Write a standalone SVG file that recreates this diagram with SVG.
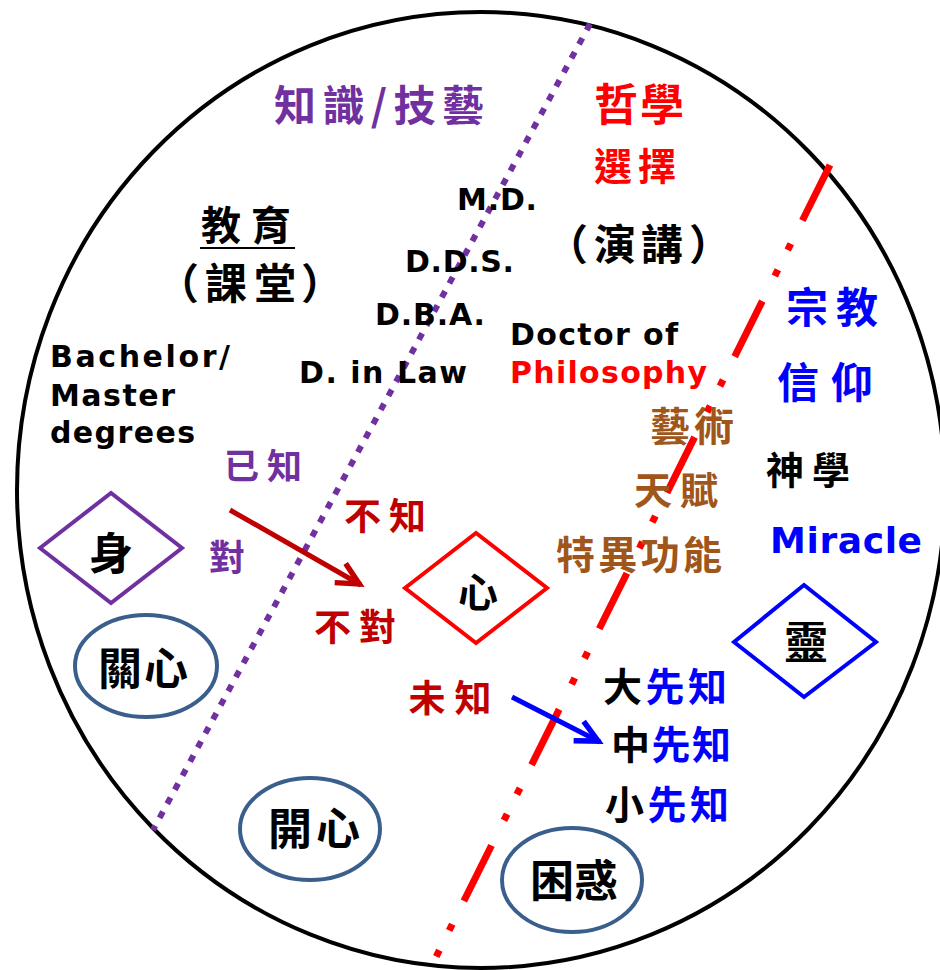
<svg xmlns="http://www.w3.org/2000/svg" width="940" height="970" viewBox="0 0 940 970">
<style>
.cjk{font-family:"Noto Sans CJK TC","Noto Sans CJK JP",sans-serif;text-anchor:middle;font-weight:bold}
.lat{font-family:"DejaVu Sans","Verdana",sans-serif;font-weight:bold;font-size:30px}
.blk{fill:#000}
.pur{fill:#7030A0}
.red{fill:#FF0000}
.drd{fill:#C00000}
.blu{fill:#0000FF}
.brn{fill:#A0561A}
.oval{fill:none;stroke:#3B5F8C;stroke-width:4}
.dia{fill:none;stroke-width:4}
</style>
<defs>
<marker id="ahRed" markerUnits="userSpaceOnUse" viewBox="-30 -15 36 30" refX="0" refY="0" markerWidth="36" markerHeight="30" orient="auto">
<path d="M-24,-11 L-2,0 L-24,11" fill="none" stroke="#C00000" stroke-width="5.5" stroke-linejoin="miter"/>
</marker>
<marker id="ahBlue" markerUnits="userSpaceOnUse" viewBox="-30 -15 36 30" refX="0" refY="0" markerWidth="36" markerHeight="30" orient="auto">
<path d="M-24,-11 L-2,0 L-24,11" fill="none" stroke="#0000FF" stroke-width="5.5" stroke-linejoin="miter"/>
</marker>
</defs>
<rect x="0" y="0" width="940" height="970" fill="#fff"/>
<g id="frame">
<ellipse cx="481" cy="490" rx="464" ry="478" fill="none" stroke="#000" stroke-width="4"/>
<line x1="590" y1="24" x2="153" y2="830" stroke="#7030A0" stroke-width="6" stroke-dasharray="7 9"/>
<line x1="830" y1="165" x2="432" y2="965" stroke="#FF0000" stroke-width="7" stroke-dasharray="62 26 7 22 7 28"/>
</g>
<g id="connectors">
<line x1="230" y1="510" x2="361" y2="585" stroke="#C00000" stroke-width="5" marker-end="url(#ahRed)"/>
<line x1="512" y1="697" x2="600" y2="742" stroke="#0000FF" stroke-width="5" marker-end="url(#ahBlue)"/>
</g>
<g id="headings">
<text class="cjk pur" x="379" y="121" font-size="42" textLength="210">知識/技藝</text>
<text class="cjk red" x="639" y="121" font-size="44" textLength="90">哲學</text>
<text class="cjk red" x="635" y="180" font-size="38" textLength="82">選擇</text>
</g>
<g id="education">
<text class="cjk blk" x="246" y="240" font-size="40" textLength="90">教育</text>
<line x1="200" y1="248" x2="295" y2="248" stroke="#000" stroke-width="2"/>
<text class="cjk blk" y="299" font-size="42"><tspan x="178">（</tspan><tspan x="226">課</tspan><tspan x="275">堂</tspan><tspan x="322">）</tspan></text>
</g>
<g id="lecture">
<text class="cjk blk" y="260" font-size="42"><tspan x="567">（</tspan><tspan x="615">演</tspan><tspan x="662">講</tspan><tspan x="710">）</tspan></text>
</g>
<g id="degrees">
<text class="lat blk" x="457" y="210" textLength="80">M.D.</text>
<text class="lat blk" x="405" y="272" textLength="109">D.D.S.</text>
<text class="lat blk" x="375" y="325" textLength="110">D.B.A.</text>
<text class="lat blk" x="299" y="383" textLength="168">D. in Law</text>
<text class="lat blk" x="50" y="367" textLength="180">Bachelor/</text>
<text class="lat blk" x="50" y="406" textLength="125">Master</text>
<text class="lat blk" x="50" y="443" textLength="145">degrees</text>
<text class="lat blk" x="510" y="345" textLength="168">Doctor of</text>
<text class="lat red" x="510" y="383" textLength="197">Philosophy</text>
</g>
<g id="religion">
<text class="cjk blu" x="832" y="323" font-size="42" textLength="92">宗教</text>
<text class="cjk blu" x="825" y="398" font-size="42" textLength="96">信仰</text>
<text class="cjk blk" x="808" y="484" font-size="38" textLength="84">神學</text>
<text class="lat blu" x="770" y="553" textLength="152" style="font-size:36px">Miracle</text>
</g>
<g id="talent">
<text class="cjk brn" x="692" y="441" font-size="40" textLength="84">藝術</text>
<text class="cjk brn" x="676" y="504" font-size="38" textLength="84">天賦</text>
<text class="cjk brn" x="639" y="569" font-size="39" textLength="166">特異功能</text>
</g>
<g id="labels">
<text class="cjk pur" x="263" y="479" font-size="35" textLength="78">已知</text>
<text class="cjk pur" x="227" y="571" font-size="36">對</text>
<text class="cjk drd" x="385" y="530" font-size="37" textLength="82">不知</text>
<text class="cjk drd" x="355" y="641" font-size="37" textLength="82">不對</text>
<text class="cjk drd" x="450" y="712" font-size="37" textLength="83">未知</text>
</g>
<g id="prophets">
<text class="cjk" x="665" y="701" font-size="39" textLength="124"><tspan class="blk">大</tspan><tspan class="blu">先知</tspan></text>
<text class="cjk" x="671" y="759" font-size="39" textLength="120"><tspan class="blk">中</tspan><tspan class="blu">先知</tspan></text>
<text class="cjk" x="667" y="819" font-size="39" textLength="124"><tspan class="blk">小</tspan><tspan class="blu">先知</tspan></text>
</g>
<g id="node-body">
<polygon class="dia" stroke="#7030A0" points="40,548 111,493 182,548 111,603"/>
<text class="cjk blk" x="111" y="570" font-size="44">身</text>
</g>
<g id="node-mind">
<polygon class="dia" stroke="#FF0000" points="405,588 476,533 547,588 476,643"/>
<text class="cjk blk" x="478" y="607" font-size="40">心</text>
</g>
<g id="node-spirit">
<polygon class="dia" stroke="#0000FF" points="734,642 804,585 876,642 804,697"/>
<text class="cjk blk" x="806" y="659" font-size="44">靈</text>
</g>
<g id="node-care">
<ellipse class="oval" cx="146" cy="666" rx="71" ry="51"/>
<text class="cjk blk" x="143" y="685" font-size="44" textLength="90">關心</text>
</g>
<g id="node-happy">
<ellipse class="oval" cx="310" cy="829" rx="70" ry="51"/>
<text class="cjk blk" x="314" y="845" font-size="44" textLength="92">開心</text>
</g>
<g id="node-confused">
<ellipse class="oval" cx="572" cy="880" rx="70" ry="52"/>
<text class="cjk blk" x="574" y="897" font-size="44" textLength="88">困惑</text>
</g>
</svg>
